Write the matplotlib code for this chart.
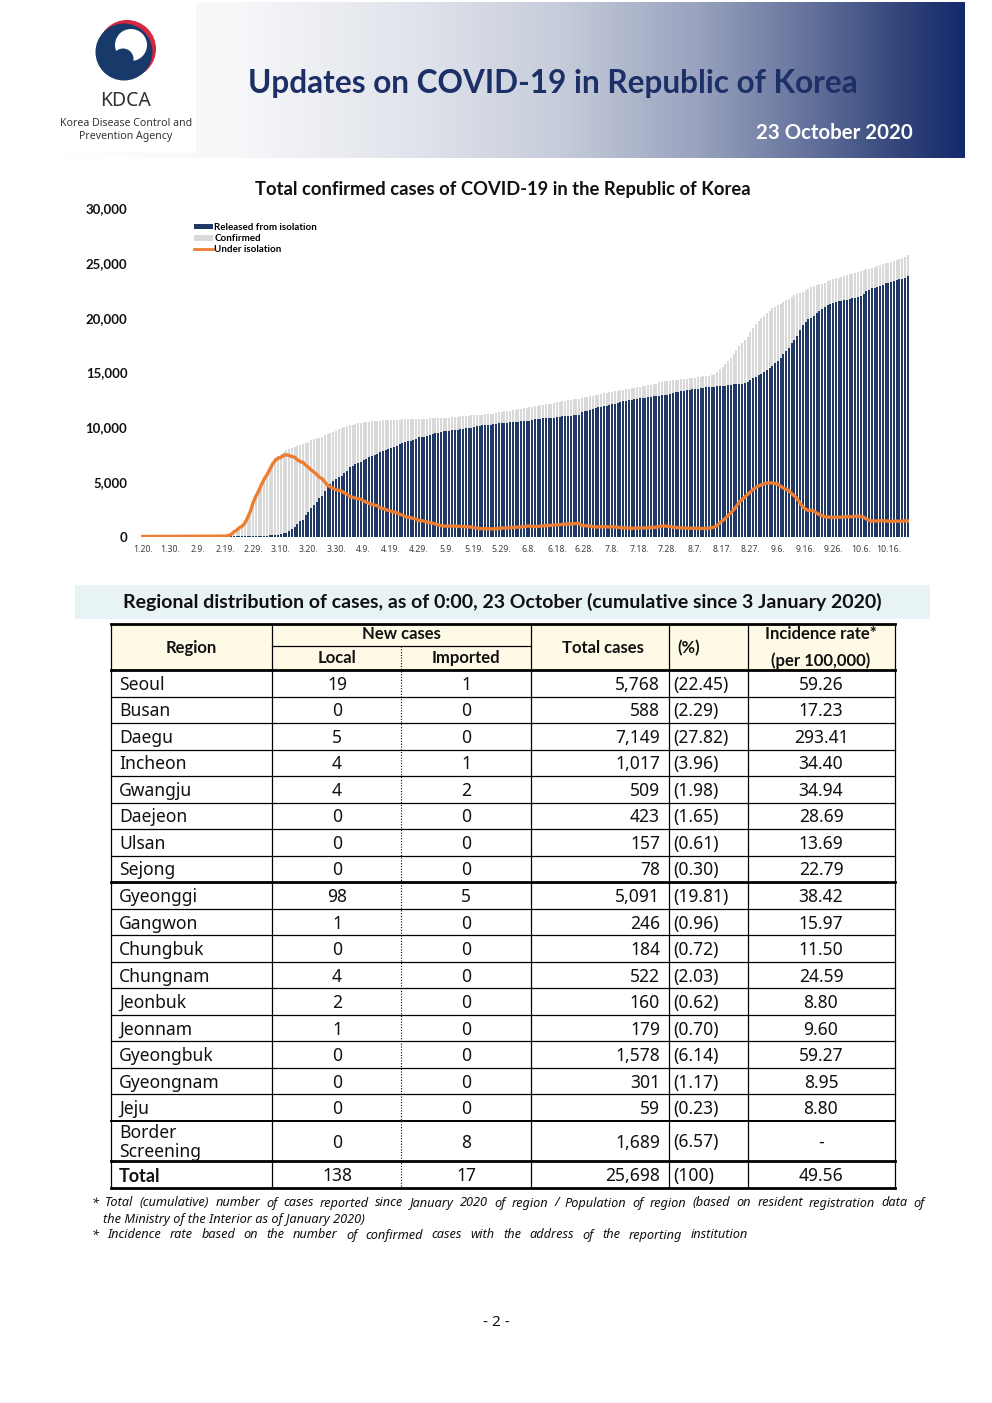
import matplotlib
matplotlib.use("Agg")
import matplotlib.pyplot as plt
import numpy as np
from matplotlib.patches import Rectangle, Circle, Patch
from matplotlib.lines import Line2D

plt.rcParams['font.family'] = ['Noto Sans', 'DejaVu Sans']

# ---- chart data: cumulative counts, one value per day from 1.20 to 10.23 ----
confirmed_jan = [1, 1, 1, 1, 2, 2, 3, 4, 4, 4, 4, 11]
confirmed_feb = [12, 15, 15, 16, 18, 23, 24, 24, 27, 27, 28, 28, 28, 28, 28, 29, 30, 31, 51, 104,
                 204, 433, 602, 833, 977, 1261, 1766, 2337, 3150]
confirmed_mar = [3736, 4212, 4812, 5328, 5766, 6284, 6767, 7134, 7382, 7513, 7755, 7869, 7979, 8086,
                 8162, 8236, 8320, 8413, 8565, 8652, 8799, 8897, 8961, 9037, 9137, 9241, 9332, 9478,
                 9583, 9661, 9786]
confirmed_apr = [9887, 9976, 10062, 10156, 10237, 10284, 10331, 10384, 10423, 10450, 10480, 10512,
                 10537, 10564, 10591, 10613, 10635, 10653, 10661, 10674, 10683, 10694, 10702, 10708,
                 10718, 10728, 10738, 10752, 10761, 10765]
confirmed_may = [10774, 10780, 10793, 10801, 10804, 10806, 10810, 10822, 10840, 10874, 10909, 10936,
                 10962, 10991, 11018, 11037, 11050, 11065, 11078, 11110, 11122, 11142, 11165, 11190,
                 11206, 11225, 11265, 11344, 11402, 11441, 11468]
confirmed_jun = [11503, 11541, 11590, 11629, 11668, 11719, 11776, 11814, 11852, 11902, 11947, 12003,
                 12051, 12085, 12121, 12155, 12198, 12257, 12306, 12373, 12421, 12438, 12484, 12535,
                 12563, 12602, 12653, 12715, 12757, 12800]
confirmed_jul = [12850, 12904, 12967, 13030, 13091, 13137, 13181, 13244, 13293, 13338, 13373, 13417,
                 13479, 13512, 13551, 13612, 13672, 13711, 13745, 13771, 13816, 13879, 13938, 13979,
                 14092, 14150, 14175, 14203, 14251, 14269, 14305]
confirmed_aug = [14336, 14366, 14389, 14423, 14456, 14499, 14519, 14562, 14598, 14626, 14660, 14714,
                 14770, 14873, 15039, 15318, 15515, 15761, 16058, 16346, 16670, 17002, 17399, 17665,
                 17945, 18265, 18706, 19077, 19400, 19699, 19947]
confirmed_sep = [20182, 20449, 20644, 20842, 21010, 21177, 21296, 21432, 21588, 21743, 21919, 22055,
                 22176, 22285, 22391, 22504, 22657, 22783, 22893, 22975, 23045, 23106, 23216, 23341,
                 23455, 23516, 23611, 23661, 23699, 23812]
confirmed_oct = [23889, 23952, 24027, 24091, 24164, 24239, 24353, 24422, 24476, 24548, 24606, 24703,
                 24805, 24889, 24988, 25035, 25108, 25199, 25275, 25333, 25424, 25543, 25698]

released_jan = [0, 0, 0, 0, 0, 0, 0, 0, 0, 0, 0, 0]
released_feb = [0, 0, 0, 0, 1, 2, 2, 2, 3, 3, 4, 7, 7, 7, 9, 9, 10, 12, 16, 16, 16, 16, 18, 18, 22,
                22, 22, 22, 27]
released_mar = [30, 30, 34, 41, 88, 108, 118, 130, 166, 247, 288, 333, 510, 714, 834, 1137, 1401,
                1540, 1947, 2233, 2612, 2909, 3166, 3507, 3730, 4144, 4528, 4811, 5033, 5228, 5408]
released_apr = [5567, 5828, 6021, 6325, 6463, 6598, 6694, 6776, 6973, 7117, 7243, 7368, 7447, 7534,
                7757, 7829, 7937, 8042, 8114, 8213, 8277, 8411, 8501, 8635, 8717, 8764, 8854, 8922,
                9059, 9072]
released_may = [9123, 9217, 9283, 9332, 9419, 9484, 9568, 9610, 9632, 9670, 9695, 9720, 9762, 9821,
                9851, 9888, 9904, 9938, 9997, 10066, 10135, 10162, 10194, 10213, 10226, 10275, 10295,
                10340, 10363, 10398, 10405]
released_jun = [10422, 10446, 10467, 10499, 10531, 10552, 10564, 10589, 10669, 10718, 10760, 10774,
                10801, 10818, 10844, 10857, 10869, 10907, 10936, 10993, 11021, 11028, 11053, 11084,
                11101, 11120, 11371, 11453, 11515, 11568]
released_jul = [11668, 11752, 11814, 11847, 11913, 11971, 12019, 12066, 12144, 12202, 12279, 12346,
                12393, 12452, 12516, 12555, 12605, 12637, 12667, 12690, 12713, 12755, 12807, 12839,
                12877, 12896, 12920, 12978, 13043, 13117, 13183]
released_aug = [13233, 13280, 13325, 13363, 13402, 13444, 13458, 13503, 13555, 13585, 13622, 13642,
                13669, 13697, 13729, 13746, 13762, 13781, 13813, 13869, 13906, 13923, 13941, 13980,
                14043, 14131, 14333, 14461, 14599, 14756, 14893]
released_sep = [15038, 15243, 15415, 15621, 15836, 16061, 16355, 16671, 16944, 17197, 17649, 18000,
                18368, 18842, 19324, 19636, 19895, 20006, 20179, 20437, 20647, 20813, 21022, 21166,
                21294, 21375, 21450, 21490, 21538, 21604]
released_oct = [21654, 21736, 21777, 21820, 21872, 21975, 22148, 22397, 22549, 22720, 22754, 22850,
                22922, 23005, 23129, 23194, 23286, 23356, 23421, 23499, 23578, 23656, 23825]

isolation_jan = [1, 1, 1, 1, 2, 2, 3, 4, 4, 4, 4, 11]
isolation_feb = [12, 15, 15, 16, 17, 21, 22, 22, 24, 24, 24, 21, 21, 21, 19, 20, 20, 19, 35, 87, 187,
                 415, 578, 807, 945, 1227, 1731, 2302, 3106]
isolation_mar = [3689, 4160, 4750, 5255, 5643, 6134, 6605, 6954, 7165, 7212, 7407, 7470, 7402, 7300,
                 7253, 7024, 6838, 6789, 6527, 6325, 6085, 5884, 5684, 5410, 5281, 4966, 4665, 4523,
                 4398, 4275, 4216]
isolation_apr = [4155, 3979, 3867, 3654, 3591, 3500, 3445, 3408, 3246, 3125, 3026, 2930, 2873, 2808,
                 2609, 2555, 2468, 2379, 2313, 2225, 2169, 2045, 1961, 1833, 1761, 1722, 1641, 1586,
                 1456, 1446]
isolation_may = [1403, 1313, 1260, 1217, 1131, 1067, 986, 956, 952, 948, 958, 958, 941, 910, 907, 887,
                 884, 864, 818, 781, 723, 716, 705, 711, 713, 681, 701, 735, 770, 774, 793]
isolation_jun = [810, 823, 850, 857, 864, 894, 939, 952, 909, 908, 911, 952, 973, 990, 1000, 1020,
                 1050, 1070, 1090, 1100, 1120, 1130, 1150, 1170, 1180, 1200, 1000, 980, 960, 950]
isolation_jul = [900, 870, 870, 900, 895, 882, 877, 893, 864, 849, 806, 783, 797, 771, 746, 766, 774,
                 780, 783, 785, 806, 827, 833, 842, 917, 956, 957, 926, 909, 852, 822]
isolation_aug = [802, 785, 763, 759, 752, 752, 757, 755, 738, 736, 733, 767, 796, 871, 1005, 1267,
                 1448, 1674, 1939, 2170, 2455, 2770, 3149, 3376, 3592, 3822, 4060, 4300, 4480, 4620,
                 4730]
isolation_sep = [4820, 4880, 4900, 4890, 4840, 4780, 4600, 4420, 4300, 4200, 3920, 3700, 3450, 3080,
                 2700, 2500, 2390, 2400, 2330, 2150, 2010, 1900, 1800, 1780, 1760, 1740, 1760, 1770,
                 1760, 1800]
isolation_oct = [1820, 1800, 1830, 1850, 1870, 1840, 1780, 1600, 1500, 1400, 1420, 1420, 1450, 1450,
                 1420, 1400, 1380, 1400, 1410, 1390, 1400, 1440, 1420]

date_ticks = ["1.20.", "1.30.", "2.9.", "2.19.", "2.29.", "3.10.", "3.20.", "3.30.", "4.9.", "4.19.",
              "4.29.", "5.9.", "5.19.", "5.29.", "6.8.", "6.18.", "6.28.", "7.8.", "7.18.", "7.28.",
              "8.7.", "8.17.", "8.27.", "9.6.", "9.16.", "9.26.", "10.6.", "10.16."]

# ---- table data ----
regions = ["Seoul", "Busan", "Daegu", "Incheon", "Gwangju", "Daejeon", "Ulsan", "Sejong",
           "Gyeonggi", "Gangwon", "Chungbuk", "Chungnam", "Jeonbuk", "Jeonnam", "Gyeongbuk",
           "Gyeongnam", "Jeju", "Border\nScreening", "Total"]
new_local = ["19", "0", "5", "4", "4", "0", "0", "0", "98", "1", "0", "4", "2", "1", "0", "0", "0",
             "0", "138"]
new_imported = ["1", "0", "0", "1", "2", "0", "0", "0", "5", "0", "0", "0", "0", "0", "0", "0", "0",
                "8", "17"]
total_cases = ["5,768", "588", "7,149", "1,017", "509", "423", "157", "78", "5,091", "246", "184",
               "522", "160", "179", "1,578", "301", "59", "1,689", "25,698"]
percent = ["(22.45)", "(2.29)", "(27.82)", "(3.96)", "(1.98)", "(1.65)", "(0.61)", "(0.30)",
           "(19.81)", "(0.96)", "(0.72)", "(2.03)", "(0.62)", "(0.70)", "(6.14)", "(1.17)", "(0.23)",
           "(6.57)", "(100)"]
incidence = ["59.26", "17.23", "293.41", "34.40", "34.94", "28.69", "13.69", "22.79", "38.42",
             "15.97", "11.50", "24.59", "8.80", "9.60", "59.27", "8.95", "8.80", "-", "49.56"]

confirmed = np.array(confirmed_jan + confirmed_feb + confirmed_mar + confirmed_apr + confirmed_may
                     + confirmed_jun + confirmed_jul + confirmed_aug + confirmed_sep + confirmed_oct)
released = np.array(released_jan + released_feb + released_mar + released_apr + released_may
                    + released_jun + released_jul + released_aug + released_sep + released_oct)
isolation = np.array(isolation_jan + isolation_feb + isolation_mar + isolation_apr + isolation_may
                     + isolation_jun + isolation_jul + isolation_aug + isolation_sep + isolation_oct)
days = np.arange(len(confirmed))

W, H = 992, 1403
fig = plt.figure(figsize=(W / 100, H / 100), dpi=100)
fig.patch.set_facecolor("white")

# page overlay in pixel coordinates
page = fig.add_axes([0, 0, 1, 1])
page.set_xlim(0, W)
page.set_ylim(H, 0)
page.axis("off")

NAVY = "#1f3864"
TXT = "#111111"
BOLD = dict(family="Lato", fontweight="bold")
renderer = fig.canvas.get_renderer()


def justified(x_left, x_right, y, text, **kw):
    # spread the words of one line between two x positions
    words = text.split(" ")
    items = [page.text(0, y, w, ha="left", va="center", **kw) for w in words]
    widths = [t.get_window_extent(renderer).width for t in items]
    gap = (x_right - x_left - sum(widths)) / (len(words) - 1)
    x = x_left
    for t, w in zip(items, widths):
        t.set_x(x)
        x += w + gap


# ---- banner ----
stops_x = [60, 240, 420, 560, 700, 820, 900, 965]
stops_c = ["#ffffff", "#f6f7f9", "#e0e3eb", "#c6ccda", "#98a2be", "#5f6d98", "#33457a", "#13296a"]
gx = np.linspace(60, 965, 600)
rgb = np.array([matplotlib.colors.to_rgb(c) for c in stops_c])
grad = np.stack([np.interp(gx, stops_x, rgb[:, k]) for k in range(3)], axis=-1)[None, :, :]
page.imshow(grad, extent=(60, 965, 158, 2), aspect="auto", interpolation="bilinear", zorder=0)
page.add_patch(Rectangle((60, 2), 136, 150, facecolor="white", edgecolor="none", zorder=1))

# logo
page.add_patch(Circle((127, 49), 29, facecolor="#d7263d", edgecolor="none", zorder=2))
page.add_patch(Circle((124, 52), 28.5, facecolor="#173a6b", edgecolor="none", zorder=3))
page.add_patch(Circle((131, 45), 16, facecolor="white", edgecolor="none", zorder=4))
page.add_patch(Circle((123, 59), 10.5, facecolor="#173a6b", edgecolor="none", zorder=5))
page.text(126, 101, "KDCA", ha="center", va="center", fontsize=14, color="#333333", zorder=6)
page.text(126, 124, "Korea Disease Control and", ha="center", va="center", fontsize=7.6,
          color="#333333", zorder=6)
page.text(126, 137, "Prevention Agency", ha="center", va="center", fontsize=7.6,
          color="#333333", zorder=6)

page.text(553, 83, "Updates on COVID-19 in Republic of Korea", ha="center", va="center",
          fontsize=22.7, color="#1c2f66", zorder=6, **BOLD)
page.text(834, 133, "23 October 2020", ha="center", va="center", fontsize=14.7,
          color="white", zorder=6, **BOLD)

# ---- chart ----
x0, x1 = 141.3, 909.1
y_top, y_bot = 208.3, 536.5
ax = fig.add_axes([x0 / W, 1 - y_bot / H, (x1 - x0) / W, (y_bot - y_top) / H])
ax.bar(days, confirmed, width=0.72, color="#d9d9d9", linewidth=0, label="Confirmed")
ax.bar(days, released, width=0.72, color=NAVY, linewidth=0, label="Released from isolation")
ax.plot(days, isolation, color="#ed7d31", linewidth=2.4, label="Under isolation")
ax.set_xlim(-0.5, len(days) - 0.5)
ax.set_ylim(0, 30000)
ax.set_yticks([0, 5000, 10000, 15000, 20000, 25000, 30000])
ax.set_yticklabels(["0", "5,000", "10,000", "15,000", "20,000", "25,000", "30,000"],
                   fontsize=9.5, color=TXT, **BOLD)
ax.set_xticks(np.arange(0, len(days), 10)[:len(date_ticks)])
ax.set_xticklabels(date_ticks, fontsize=6.3, color="#404040")
ax.tick_params(axis="y", length=0, pad=10)
ax.tick_params(axis="x", length=0, pad=6)
for s in ax.spines.values():
    s.set_visible(False)
ax.patch.set_alpha(0)

handles = [Patch(facecolor=NAVY, edgecolor="none"), Patch(facecolor="#d9d9d9", edgecolor="none"),
           Line2D([0], [0], color="#ed7d31", linewidth=2)]
labels = ["Released from isolation", "Confirmed", "Under isolation"]
ax.legend(handles, labels, loc="upper left", bbox_to_anchor=(194 / W, 1 - 223 / H),
          bbox_transform=fig.transFigure, frameon=False,
          prop={"family": "Lato", "weight": "bold", "size": 7.0}, handlelength=2.0,
          handleheight=0.55, handletextpad=0.1, labelspacing=0.22, borderpad=0, borderaxespad=0)

page.text(503, 190, "Total confirmed cases of COVID-19 in the Republic of Korea", ha="center",
          va="center", fontsize=13.2, color=TXT, **BOLD)

# ---- section band ----
page.add_patch(Rectangle((75, 585), 855, 34, facecolor="#e7f3f5", edgecolor="none"))
page.text(502, 602, "Regional distribution of cases, as of 0:00, 23 October (cumulative since 3 January 2020)",
          ha="center", va="center", fontsize=14, color=TXT, **BOLD)

# ---- table ----
cols = [111, 272, 401, 531, 669, 748, 895]
top, hdr_mid, hdr_bot = 624, 646, 670
row_h = (1121 - hdr_bot) / 17
row_edges = [hdr_bot + i * row_h for i in range(18)] + [1161, 1188]

page.add_patch(Rectangle((cols[0], top), cols[-1] - cols[0], hdr_bot - top,
                         facecolor="#fffae6", edgecolor="none"))
thin, thick = 0.9, 2.0
page.plot([cols[0], cols[-1]], [top, top], color="black", lw=thick)
page.plot([cols[0], cols[-1]], [hdr_bot, hdr_bot], color="black", lw=thick)
page.plot([cols[1], cols[3]], [hdr_mid, hdr_mid], color="black", lw=thin)
for i, yy in enumerate(row_edges[1:]):
    lw = thin
    if i in (7, 17, 18):
        lw = thick
    elif i == 16:
        lw = 1.4
    page.plot([cols[0], cols[-1]], [yy, yy], color="black", lw=lw)
for c in (cols[0], cols[1], cols[3], cols[4], cols[5], cols[6]):
    page.plot([c, c], [top, row_edges[-1]], color="black", lw=thin)
page.plot([cols[2], cols[2]], [hdr_mid, row_edges[-1]], color="black", lw=0.8, ls=(0, (1, 1.5)))

hfs = 12
page.text(191, 648, "Region", ha="center", va="center", fontsize=hfs, color=TXT, **BOLD)
page.text(401, 634, "New cases", ha="center", va="center", fontsize=hfs, color=TXT, **BOLD)
page.text(337, 658, "Local", ha="center", va="center", fontsize=hfs, color=TXT, **BOLD)
page.text(466, 658, "Imported", ha="center", va="center", fontsize=hfs, color=TXT, **BOLD)
page.text(603, 648, "Total cases", ha="center", va="center", fontsize=hfs, color=TXT, **BOLD)
page.text(677, 648, "(%)", ha="left", va="center", fontsize=hfs, color=TXT, **BOLD)
page.text(821, 634, "Incidence rate*", ha="center", va="center", fontsize=hfs, color=TXT, **BOLD)
page.text(821, 661, "(per 100,000)", ha="center", va="center", fontsize=hfs, color=TXT, **BOLD)

dfs = 12.6
for i in range(len(regions)):
    yc = (row_edges[i] + row_edges[i + 1]) / 2 + 1.5
    if regions[i] == "Total":
        page.text(119, yc, regions[i], ha="left", va="center", fontsize=13, color=TXT, **BOLD)
    else:
        page.text(119, yc, regions[i], ha="left", va="center", fontsize=dfs, color=TXT,
                  linespacing=1.1)
    page.text(337, yc, new_local[i], ha="center", va="center", fontsize=dfs, color=TXT)
    page.text(466, yc, new_imported[i], ha="center", va="center", fontsize=dfs, color=TXT)
    page.text(660, yc, total_cases[i], ha="right", va="center", fontsize=dfs, color=TXT)
    page.text(673, yc, percent[i], ha="left", va="center", fontsize=dfs, color=TXT)
    page.text(821, yc, incidence[i], ha="center", va="center", fontsize=dfs, color=TXT)

# ---- footnotes ----
ffs = 9.2
justified(92, 925, 1203, "* Total (cumulative) number of cases reported since January 2020 of region / "
          "Population of region (based on resident registration data of",
          fontsize=ffs, style="italic", color=TXT)
page.text(103, 1219, "the Ministry of the Interior as of January 2020)", ha="left", va="center",
          fontsize=ffs, style="italic", color=TXT)
justified(92, 748, 1235, "* Incidence rate based on the number of confirmed cases with the address "
          "of the reporting institution", fontsize=ffs, style="italic", color=TXT)

page.text(496, 1322, "- 2 -", ha="center", va="center", fontsize=11, color=TXT)

fig.savefig("out.png", dpi=100)
